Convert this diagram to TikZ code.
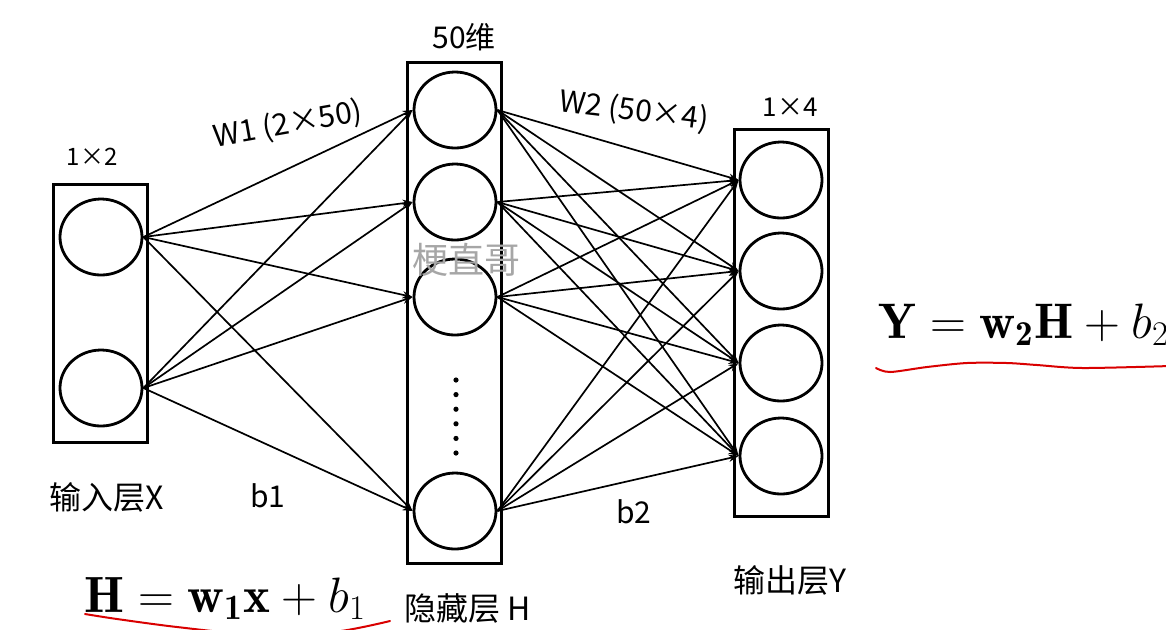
\documentclass[tikz,border=0pt]{standalone}
\usepackage{amsmath,amssymb}
\usepackage{fontspec}
\newfontfamily\cjk{Noto Sans CJK SC}
\usetikzlibrary{arrows.meta,shapes.geometric}

\begin{document}
\begin{tikzpicture}[
  x=0.5pt, y=-0.5pt,
  >={Stealth[length=5pt,width=3.6pt]},
  every node/.style={font=\cjk\fontsize{15}{18}\selectfont},
  neuron/.style={ellipse, draw, line width=1.4pt, minimum width=41pt, minimum height=38pt, inner sep=0pt},
  layer/.style={draw, line width=1.5pt, inner sep=0pt, minimum width=47pt},
  link/.style={->, line width=0.85pt},
  wave/.style={red!85!black, line width=1pt, line cap=round}
]
\useasboundingbox (0,0) rectangle (1166,629);

% layer frames
\node[layer, minimum height=129pt] (inbox) at (100.5,313) {};
\node[layer, minimum height=250.5pt] (hidbox) at (454.5,312.5) {};
\node[layer, minimum height=193.5pt] (outbox) at (781,322.5) {};

% neurons
\node[neuron] (x1) at (101,237) {};
\node[neuron] (x2) at (101,388) {};
\node[neuron] (h1) at (455,110) {};
\node[neuron] (h2) at (455,202) {};
\node[neuron] (h3) at (455,297) {};
\node[neuron] (h4) at (455,511) {};
\node[neuron] (y1) at (781,180) {};
\node[neuron] (y2) at (781,271) {};
\node[neuron] (y3) at (781,363) {};
\node[neuron] (y4) at (781,456) {};
\fill (456,380) circle (1.3pt) (456,394.6) circle (1.3pt) (456,409.2) circle (1.3pt)
      (456,423.8) circle (1.3pt) (456,438.4) circle (1.3pt) (456,453) circle (1.3pt);

% input -> hidden
\draw[link] (x1.east) -- (h1.west);
\draw[link] (x1.east) -- (h2.west);
\draw[link] (x1.east) -- (h3.west);
\draw[link] (x1.east) -- (h4.west);
\draw[link] (x2.east) -- (h1.west);
\draw[link] (x2.east) -- (h2.west);
\draw[link] (x2.east) -- (h3.west);
\draw[link] (x2.east) -- (h4.west);
% hidden -> output
\draw[link] (h1.east) -- (y1.west);
\draw[link] (h1.east) -- (y2.west);
\draw[link] (h1.east) -- (y3.west);
\draw[link] (h1.east) -- (y4.west);
\draw[link] (h2.east) -- (y1.west);
\draw[link] (h2.east) -- (y2.west);
\draw[link] (h2.east) -- (y3.west);
\draw[link] (h2.east) -- (y4.west);
\draw[link] (h3.east) -- (y1.west);
\draw[link] (h3.east) -- (y2.west);
\draw[link] (h3.east) -- (y3.west);
\draw[link] (h3.east) -- (y4.west);
\draw[link] (h4.east) -- (y1.west);
\draw[link] (h4.east) -- (y2.west);
\draw[link] (h4.east) -- (y3.west);
\draw[link] (h4.east) -- (y4.west);

% labels
\node[font=\cjk\fontsize{12}{14}\selectfont] (insize) at (92,157) {1×2};
\node (hidsize) at (464,37) {50维};
\node[font=\cjk\fontsize{13}{15}\selectfont] (outsize) at (790,107) {1×4};
\node[rotate=10] (w1) at (288,125) {W1 (2×50)};
\node[rotate=-7] (w2) at (634,111) {W2 (50×4)};
\node (b1) at (268,496) {b1};
\node (b2) at (634,512) {b2};
\node[font=\cjk\fontsize{16}{18}\selectfont] (inname) at (107,497) {输入层X};
\node[font=\cjk\fontsize{16}{18}\selectfont] (hidname) at (468,608) {隐藏层 H};
\node[font=\cjk\fontsize{16}{18}\selectfont] (outname) at (790,580) {输出层Y};
\node[font=\cjk\fontsize{18}{20}\selectfont, text=black!35] (mark) at (466,260) {梗直哥};

% formulas
\node[anchor=base west, inner sep=0pt, font=\fontsize{25.5}{28}\selectfont] (heq) at (84,612) {$\mathbf{H} = \mathbf{w_1 x} + b_1$};
\node[anchor=base west, inner sep=0pt, font=\fontsize{25}{28}\selectfont] (yeq) at (878,338) {$\mathbf{Y} = \mathbf{w_2 H} + b_2$};
\draw[wave] plot[smooth] coordinates {(85,614) (117,619) (177,627) (250,634) (333,632) (390,621)};
\draw[wave] plot[smooth] coordinates {(876,368) (890,372) (927,367) (967,363) (1007,363) (1037,365) (1083,368) (1170,366)};
\end{tikzpicture}
\end{document}
